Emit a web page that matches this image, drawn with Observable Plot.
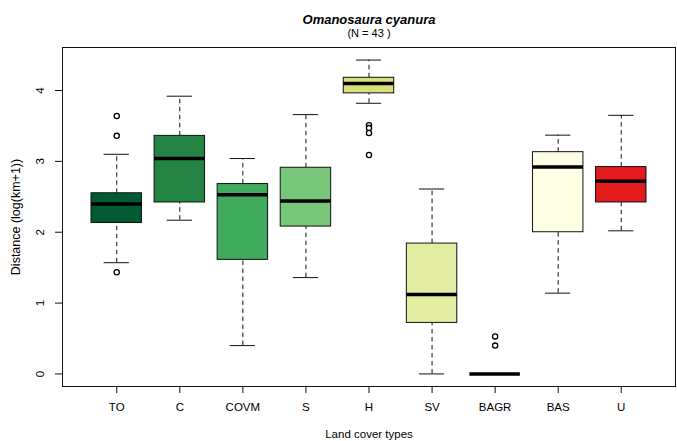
<!DOCTYPE html>
<html>
<head>
<meta charset="utf-8">
<script src="https://cdn.jsdelivr.net/npm/d3@7"></script>
<script src="https://cdn.jsdelivr.net/npm/@observablehq/plot@0.6"></script>
<style>
  html, body { margin: 0; padding: 0; background: white; }
</style>
</head>
<body>
<div id="chart"></div>
<script>
// ---- data ----
const categories = ["TO", "C", "COVM", "S", "H", "SV", "BAGR", "BAS", "U"];
const colors     = ["#005A32", "#238443", "#41AB5D", "#78C679", "#D8DF7B", "#E2EDA3", "#F7FCB9", "#FFFFE5", "#E31A1C"];
const whiskerLo  = [1.57, 2.17, 0.40, 1.36, 3.82, 0.00, 0.00, 1.14, 2.02];
const q1         = [2.13, 2.42, 1.61, 2.08, 3.96, 0.72, 0.00, 2.00, 2.42];
const median     = [2.40, 3.04, 2.53, 2.44, 4.10, 1.12, 0.00, 2.92, 2.72];
const q3         = [2.55, 3.36, 2.68, 2.91, 4.18, 1.84, 0.00, 3.13, 2.92];
const whiskerHi  = [3.10, 3.92, 3.04, 3.66, 4.43, 2.61, 0.00, 3.37, 3.65];
const outlierCat = ["TO", "TO", "TO", "H", "H", "H", "H", "BAGR", "BAGR"];
const outlierVal = [3.64, 3.36, 1.435, 3.51, 3.47, 3.40, 3.09, 0.53, 0.40];
const yTicks     = [0, 1, 2, 3, 4];
const title      = "Omanosaura cyanura";
const subtitle   = "(N = 43 )";
const xLabel     = "Land cover types";
const yLabel     = "Distance (log(km+1))";

// ---- build tables ----
const boxes = categories.map((c, k) => ({
  cat: c, i: k + 1, color: colors[k],
  lo: whiskerLo[k], q1: q1[k], med: median[k], q3: q3[k], hi: whiskerHi[k]
}));
const outliers = outlierCat.map((c, k) => ({i: categories.indexOf(c) + 1, v: outlierVal[k]}));

// R-style axis extents (4% extension)
const n = categories.length;
const xDomain = [0.5 - 0.04 * n, n + 0.5 + 0.04 * n];
const allY = [...whiskerLo, ...whiskerHi, ...outlierVal];
const yMin = d3.min(allY), yMax = d3.max(allY), yr = yMax - yMin;
const yDomain = [yMin - 0.04 * yr, yMax + 0.04 * yr];

const half = 0.4, capHalf = 0.2;
const ink = "#111";

const chart = Plot.plot({
  width: 677,
  height: 441,
  marginLeft: 62,
  marginRight: 2,
  marginTop: 47,
  marginBottom: 55,
  style: {fontFamily: "'Liberation Sans', Arial, Helvetica, sans-serif", fontSize: "11px", background: "white", color: "black"},
  x: {type: "linear", domain: xDomain, axis: null},
  y: {type: "linear", domain: yDomain, axis: null},
  marks: [
    // whiskers (dashed)
    Plot.ruleX(boxes, {x: "i", y1: "q3", y2: "hi", stroke: ink, strokeWidth: 1, strokeDasharray: "4.5,3.5"}),
    Plot.ruleX(boxes, {x: "i", y1: "lo", y2: "q1", stroke: ink, strokeWidth: 1, strokeDasharray: "4.5,3.5"}),
    // staples
    Plot.ruleY(boxes, {y: "hi", x1: d => d.i - capHalf, x2: d => d.i + capHalf, stroke: ink, strokeWidth: 1}),
    Plot.ruleY(boxes, {y: "lo", x1: d => d.i - capHalf, x2: d => d.i + capHalf, stroke: ink, strokeWidth: 1}),
    // boxes
    Plot.rect(boxes, {x1: d => d.i - half, x2: d => d.i + half, y1: "q1", y2: "q3", fill: "color", stroke: ink, strokeWidth: 1}),
    // medians
    Plot.ruleY(boxes, {y: "med", x1: d => d.i - half, x2: d => d.i + half, stroke: "black", strokeWidth: 3.5}),
    // outliers
    Plot.dot(outliers, {x: "i", y: "v", r: 2.6, stroke: "black", fill: "white", strokeWidth: 1.3}),
    // frame
    Plot.frame({stroke: ink, strokeWidth: 1}),
    // x axis
    Plot.axisX({ticks: boxes.map(d => d.i), tickFormat: i => categories[i - 1], tickSize: 7, tickPadding: 9, fontSize: 11.5, label: null, stroke: ink}),
    // y axis ticks + rotated labels
    Plot.axisY({ticks: yTicks, tickSize: 7, tickFormat: () => "", label: null, stroke: ink}),
    Plot.text(yTicks, {y: d => d, text: d => String(d), frameAnchor: "left", dx: -22, rotate: -90, textAnchor: "middle", lineAnchor: "middle", fontSize: 11.5, fill: "black"}),
    // axis titles
    Plot.text([yLabel], {text: d => d, frameAnchor: "left", dx: -47, rotate: -90, textAnchor: "middle", lineAnchor: "middle", fontSize: 12.5, fill: "black"}),
    Plot.text([xLabel], {text: d => d, frameAnchor: "bottom", dy: 48, textAnchor: "middle", lineAnchor: "middle", fontSize: 11.5, fill: "black"}),
    // title & subtitle
    Plot.text([title], {text: d => d, frameAnchor: "top", dy: -28, textAnchor: "middle", lineAnchor: "middle", fontSize: 13, fontWeight: "bold", fontStyle: "italic", fill: "black"}),
    Plot.text([subtitle], {text: d => d, frameAnchor: "top", dy: -14, textAnchor: "middle", lineAnchor: "middle", fontSize: 11, fill: "black"})
  ]
});
document.getElementById("chart").appendChild(chart);
</script>
</body>
</html>
